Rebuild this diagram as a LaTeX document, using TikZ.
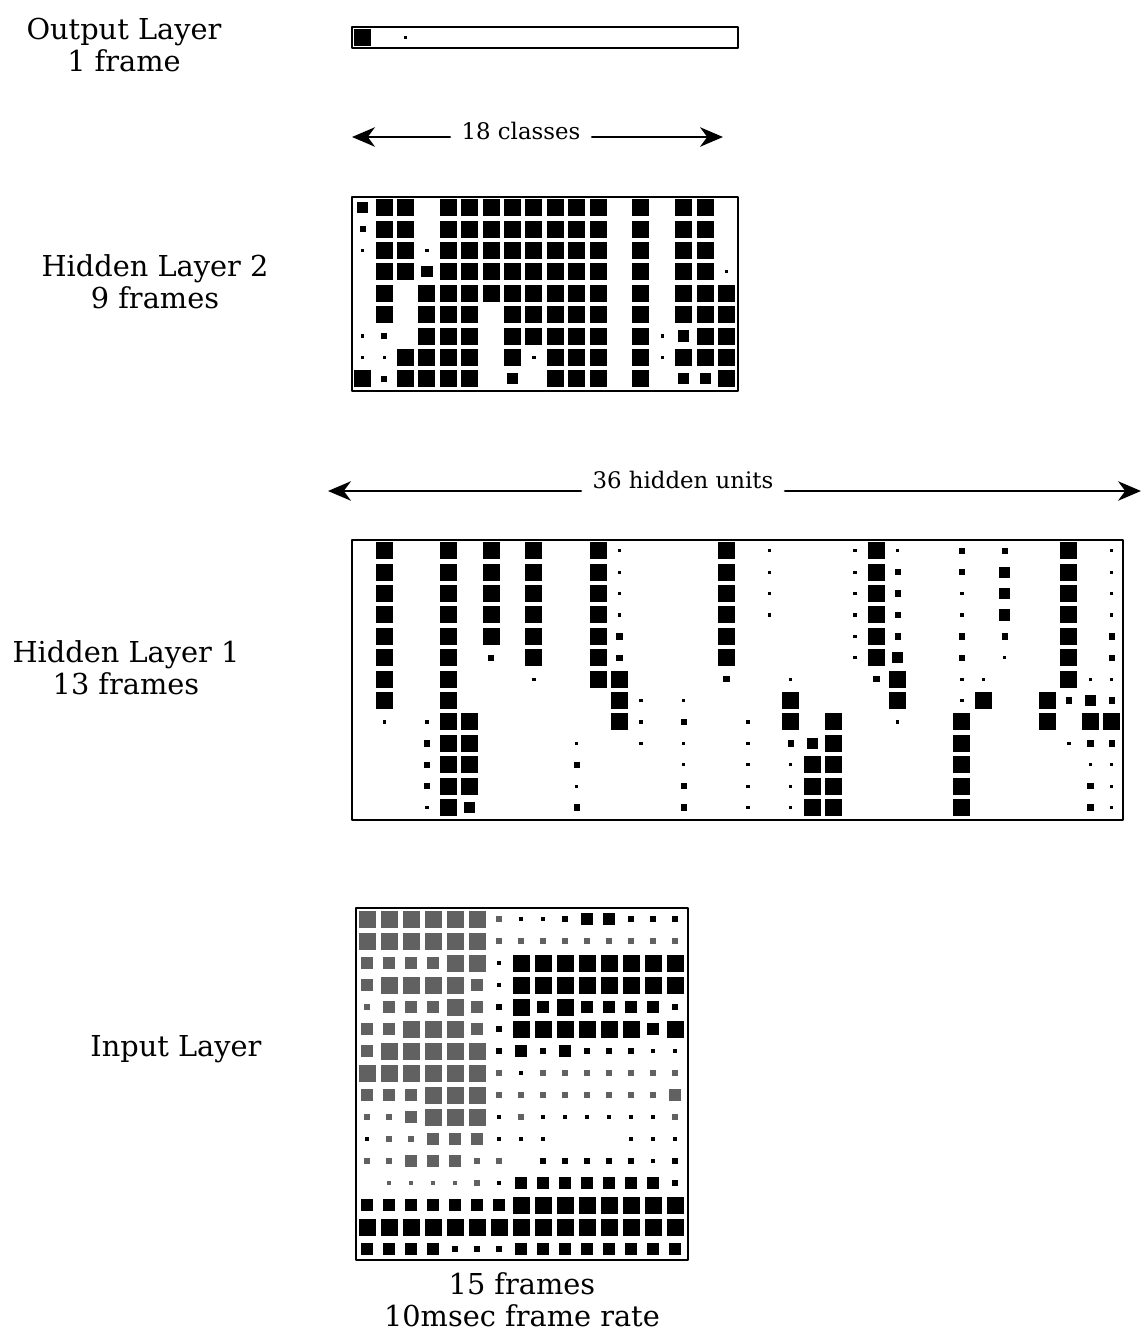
\documentclass[tikz,border=0pt]{standalone}
\usepackage{fontspec}
\setmainfont{DejaVu Serif}
\usetikzlibrary{arrows.meta}

\begin{document}
\begin{tikzpicture}[x=0.02cm,y=-0.02cm,line cap=round,line join=round,
  layerlabel/.style={align=center,font=\fontsize{16.4}{18}\selectfont},
  spanlabel/.style={font=\fontsize{13}{15}\selectfont,inner xsep=6.5pt},
  layerframe/.style={line width=1pt},
  spanarrow/.style={line width=1.6pt,-{Stealth[length=13pt,width=11pt,inset=4pt]}},
  posunit/.style={fill=black},
  negunit/.style={fill=black!62}]
  \useasboundingbox (0,0) rectangle (1144,1337);

  \node[layerlabel] (outlbl) at (124,45) {Output Layer\\1 frame};
  \node[layerlabel] (hid2lbl) at (155,282) {Hidden Layer 2\\9 frames};
  \node[layerlabel] (hid1lbl) at (126,668) {Hidden Layer 1\\13 frames};
  \node[layerlabel] (inlbl) at (176,1049) {Input Layer};
  \node[layerlabel] (framelbl) at (522,1300) {15 frames\\10msec frame rate};

  \node[spanlabel] (classlbl) at (521,131) {18 classes};
  \coordinate (classL) at (352,137);
  \coordinate (classR) at (723,137);
  \draw[spanarrow] (classlbl.west |- classL) -- (classL);
  \draw[spanarrow] (classlbl.east |- classR) -- (classR);

  \node[spanlabel] (unitlbl) at (683,480) {36 hidden units};
  \coordinate (unitL) at (328,491);
  \coordinate (unitR) at (1141,491);
  \draw[spanarrow] (unitlbl.west |- unitL) -- (unitL);
  \draw[spanarrow] (unitlbl.east |- unitR) -- (unitR);

  \draw[layerframe] (352,27) rectangle (738,48);
  \draw[layerframe] (352,197) rectangle (738,391);
  \draw[layerframe] (352,540) rectangle (1123,820);
  \draw[layerframe] (356,908) rectangle (688,1260);

  \foreach \rowvals [count=\r] in {{4,0,1,0,0,0,0,0,0,0,0,0,0,0,0,0,0,0}} {
    \foreach \s [count=\c] in \rowvals {
      \pgfmathtruncatemacro\k{abs(\s)}
      \pgfmathsetmacro\h{{0,1.6,3.2,5.6,8.5}[\k]}
      \pgfmathsetmacro\px{362.7+(\c-1)*21.4}
      \ifnum\s>0 \fill[posunit] (\px-\h,37.5-\h) rectangle (\px+\h,37.5+\h); \fi
    }
  }

  \foreach \rowvals [count=\r] in {
    {3,4,4,0,4,4,4,4,4,4,4,4,0,4,0,4,4,0},
    {2,4,4,0,4,4,4,4,4,4,4,4,0,4,0,4,4,0},
    {1,4,4,1,4,4,4,4,4,4,4,4,0,4,0,4,4,0},
    {0,4,4,3,4,4,4,4,4,4,4,4,0,4,0,4,4,1},
    {0,4,0,4,4,4,4,4,4,4,4,4,0,4,0,4,4,4},
    {0,4,0,4,4,4,0,4,4,4,4,4,0,4,0,4,4,4},
    {1,2,0,4,4,4,0,4,4,4,4,4,0,4,1,3,4,4},
    {1,1,4,4,4,4,0,4,1,4,4,4,0,4,1,4,4,4},
    {4,2,4,4,4,4,0,3,0,4,4,4,0,4,0,3,3,4}} {
    \foreach \s [count=\c] in \rowvals {
      \pgfmathtruncatemacro\k{abs(\s)}
      \pgfmathsetmacro\h{{0,1.6,3.2,5.6,8.5}[\k]}
      \pgfmathsetmacro\px{362.7+(\c-1)*21.4}
      \pgfmathsetmacro\py{207.7+(\r-1)*21.4}
      \ifnum\s>0 \fill[posunit] (\px-\h,\py-\h) rectangle (\px+\h,\py+\h); \fi
    }
  }

  \foreach \rowvals [count=\r] in {
    {0,4,0,0,4,0,4,0,4,0,0,4,1,0,0,0,0,4,0,1,0,0,0,1,4,1,0,0,2,0,2,0,0,4,0,1},
    {0,4,0,0,4,0,4,0,4,0,0,4,1,0,0,0,0,4,0,1,0,0,0,1,4,2,0,0,2,0,3,0,0,4,0,1},
    {0,4,0,0,4,0,4,0,4,0,0,4,1,0,0,0,0,4,0,1,0,0,0,1,4,2,0,0,1,0,3,0,0,4,0,1},
    {0,4,0,0,4,0,4,0,4,0,0,4,1,0,0,0,0,4,0,1,0,0,0,1,4,2,0,0,1,0,3,0,0,4,0,1},
    {0,4,0,0,4,0,4,0,4,0,0,4,2,0,0,0,0,4,0,0,0,0,0,1,4,2,0,0,2,0,2,0,0,4,0,2},
    {0,4,0,0,4,0,2,0,4,0,0,4,2,0,0,0,0,4,0,0,0,0,0,1,4,3,0,0,2,0,1,0,0,4,0,2},
    {0,4,0,0,4,0,0,0,1,0,0,4,4,0,0,0,0,2,0,0,1,0,0,0,2,4,0,0,1,1,0,0,0,4,1,1},
    {0,4,0,0,4,0,0,0,0,0,0,0,4,1,0,1,0,0,0,0,4,0,0,0,0,4,0,0,1,4,0,0,4,2,3,2},
    {0,1,0,1,4,4,0,0,0,0,0,0,4,1,0,2,0,0,1,0,4,0,4,0,0,1,0,0,4,0,0,0,4,0,4,4},
    {0,0,0,2,4,4,0,0,0,0,1,0,0,1,0,1,0,0,1,0,2,3,4,0,0,0,0,0,4,0,0,0,0,1,2,2},
    {0,0,0,2,4,4,0,0,0,0,2,0,0,0,0,1,0,0,1,0,1,4,4,0,0,0,0,0,4,0,0,0,0,0,1,1},
    {0,0,0,2,4,4,0,0,0,0,1,0,0,0,0,2,0,0,1,0,1,4,4,0,0,0,0,0,4,0,0,0,0,0,2,1},
    {0,0,0,1,4,3,0,0,0,0,2,0,0,0,0,2,0,0,1,0,1,4,4,0,0,0,0,0,4,0,0,0,0,0,2,1}} {
    \foreach \s [count=\c] in \rowvals {
      \pgfmathtruncatemacro\k{abs(\s)}
      \pgfmathsetmacro\h{{0,1.6,3.2,5.6,8.5}[\k]}
      \pgfmathsetmacro\px{362.7+(\c-1)*21.4}
      \pgfmathsetmacro\py{550.7+(\r-1)*21.4}
      \ifnum\s>0 \fill[posunit] (\px-\h,\py-\h) rectangle (\px+\h,\py+\h); \fi
    }
  }

  \foreach \rowvals [count=\r] in {
    {-4,-4,-4,-4,-4,-4,-2,1,1,2,3,3,2,2,2},
    {-4,-4,-4,-4,-4,-4,-2,-2,-2,-2,-2,-2,-2,-2,-2},
    {-3,-3,-3,-3,-4,-4,1,4,4,4,4,4,4,4,4},
    {-3,-4,-4,-4,-4,-3,1,4,4,4,4,4,4,4,4},
    {-2,-3,-3,-3,-4,-3,2,4,3,4,3,3,3,3,2},
    {-3,-3,-4,-4,-4,-3,2,4,4,4,4,4,4,3,4},
    {-3,-4,-4,-4,-4,-4,2,3,2,3,2,2,2,1,1},
    {-4,-4,-4,-4,-4,-4,-2,1,-2,-2,-2,-2,-2,-2,-2},
    {-3,-3,-3,-4,-4,-4,-2,-2,-2,-2,-2,-2,-2,-2,-3},
    {-2,-2,-3,-4,-4,-4,1,-2,1,1,1,1,1,1,-2},
    {1,-2,-2,-3,-3,-3,1,1,1,0,0,0,1,1,1},
    {-2,-2,-3,-3,-3,-2,-2,0,2,2,2,2,2,1,2},
    {0,-1,-1,-1,-1,-2,1,3,3,3,3,3,3,3,2},
    {3,3,3,3,3,3,3,4,4,4,4,4,4,4,4},
    {4,4,4,4,4,4,4,4,4,4,4,4,4,4,4},
    {3,3,3,3,2,2,2,3,3,3,3,3,3,3,3}} {
    \foreach \s [count=\c] in \rowvals {
      \pgfmathtruncatemacro\k{abs(\s)}
      \pgfmathsetmacro\h{{0,1.6,3.2,5.6,8.5}[\k]}
      \pgfmathsetmacro\px{367+(\c-1)*22}
      \pgfmathsetmacro\py{919+(\r-1)*22}
      \ifnum\s>0 \fill[posunit] (\px-\h,\py-\h) rectangle (\px+\h,\py+\h); \fi
      \ifnum\s<0 \fill[negunit] (\px-\h,\py-\h) rectangle (\px+\h,\py+\h); \fi
    }
  }
\end{tikzpicture}
\end{document}
